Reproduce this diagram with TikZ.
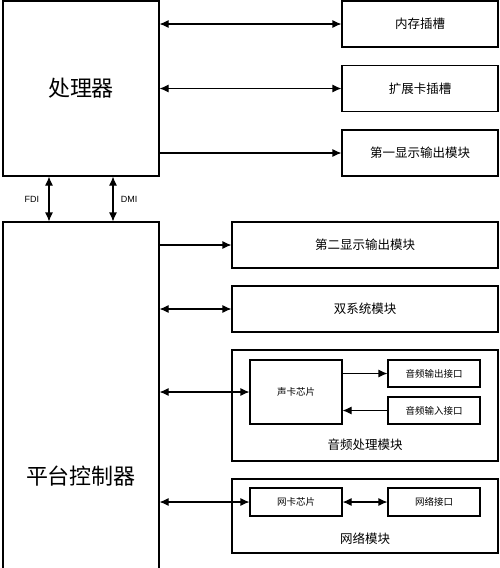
\documentclass[tikz,border=0pt]{standalone}
\usepackage{fontspec}
\setsansfont{Liberation Sans}
\newfontfamily\cjk{Noto Sans CJK SC}
\usetikzlibrary{arrows.meta}
\tikzset{
  blk/.style={draw, line width=1.1pt, inner sep=0pt},
  modbox/.style={blk, font=\cjk\fontsize{12.5}{14}\selectfont},
  chipbox/.style={blk, font=\cjk\fontsize{9.5}{11}\selectfont},
  biglabel/.style={font=\cjk\fontsize{22}{24}\selectfont},
  buslabel/.style={font=\sffamily\fontsize{9}{10}\selectfont},
  link/.style={line width=1.1pt},
}
\begin{document}
\begin{tikzpicture}[>={Latex[length=9pt,width=8pt]}, x=1pt, y=-1pt]
\clip (0,0) rectangle (500,568);
% processor and platform controller
\node[blk, minimum width=156pt, minimum height=175pt] (cpu) at (81,88.5) {};
\node[biglabel] (cputext) at (81,88) {处理器};
\node[blk, minimum width=156pt, minimum height=360pt] (pch) at (81,402) {};
\node[biglabel] (pchtext) at (81,476) {平台控制器};
% modules of the processor
\node[modbox, minimum width=156pt, minimum height=46pt] (mem) at (420,24) {内存插槽};
\node[modbox, minimum width=156pt, minimum height=46pt] (ext) at (420,88.5) {扩展卡插槽};
\node[modbox, minimum width=156pt, minimum height=46pt] (disp1) at (420,153) {第一显示输出模块};
% modules of the platform controller
\node[modbox, minimum width=266pt, minimum height=46pt] (disp2) at (365,245) {第二显示输出模块};
\node[modbox, minimum width=266pt, minimum height=46pt] (dual) at (365,309) {双系统模块};
\node[blk, minimum width=266pt, minimum height=111pt] (audio) at (365,405.5) {};
\node[modbox, draw=none] (audiotext) at (365,445) {音频处理模块};
\node[chipbox, minimum width=92pt, minimum height=64pt] (sound) at (296,392) {声卡芯片};
\node[chipbox, minimum width=92pt, minimum height=27pt] (aout) at (434,373.5) {音频输出接口};
\node[chipbox, minimum width=92pt, minimum height=27pt] (ain) at (434,410.5) {音频输入接口};
\node[blk, minimum width=266pt, minimum height=74pt] (net) at (365,516) {};
\node[modbox, draw=none] (nettext) at (365,539) {网络模块};
\node[chipbox, minimum width=92pt, minimum height=28pt] (nic) at (296,502) {网卡芯片};
\node[chipbox, minimum width=92pt, minimum height=28pt] (port) at (434,502) {网络接口};
% buses
\coordinate (fdi) at (49,0);
\coordinate (dmi) at (113,0);
\draw[link,<->] (fdi |- cpu.south) -- (fdi |- pch.north) node[midway,left=6pt,buslabel]{FDI};
\draw[link,<->] (dmi |- cpu.south) -- (dmi |- pch.north) node[midway,right=4pt,buslabel]{DMI};
% links
\draw[link,<->] (cpu.east |- mem.west) -- (mem.west);
\draw[link,<->] (cpu.east |- ext.west) -- (ext.west);
\draw[link,->] (cpu.east |- disp1.west) -- (disp1.west);
\draw[link,->] (pch.east |- disp2.west) -- (disp2.west);
\draw[link,<->] (pch.east |- dual.west) -- (dual.west);
\draw[link,<->] (pch.east |- sound.west) -- (sound.west);
\draw[link,->] (sound.east |- aout.west) -- (aout.west);
\draw[link,->] (ain.west) -- (sound.east |- ain.west);
\draw[link,<->] (pch.east |- nic.west) -- (nic.west);
\draw[link,<->] (nic.east) -- (port.west);
\end{tikzpicture}
\end{document}
